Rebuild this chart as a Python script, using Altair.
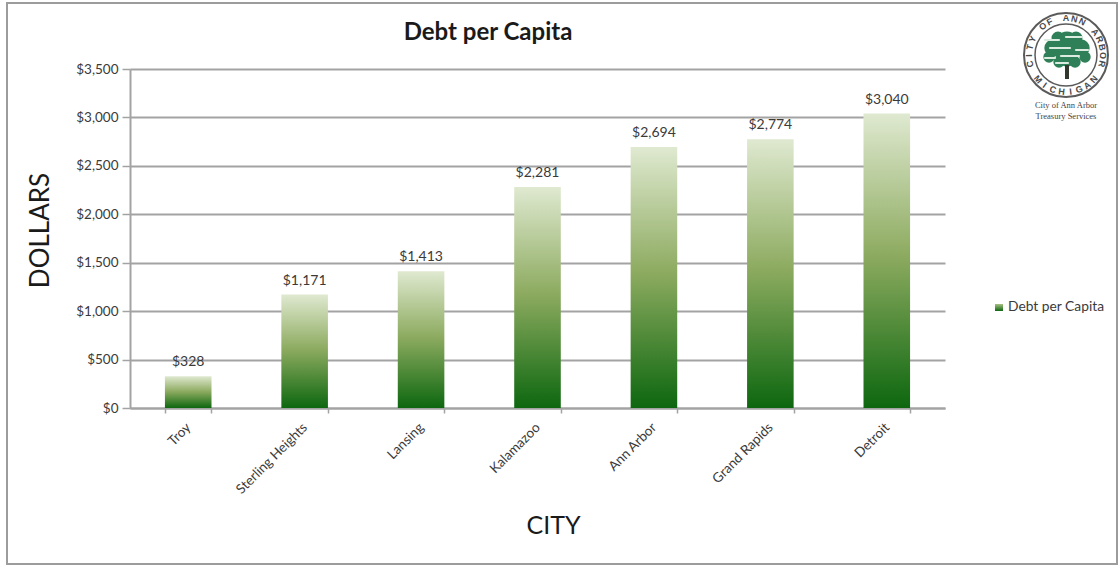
import math
import altair as alt
import pandas as pd

FONT = "Lato"
GRID = "#a3a3a3"
TEXT = "#3a3a3a"

# Chart values
cities = ["Troy", "Sterling Heights", "Lansing", "Kalamazoo", "Ann Arbor", "Grand Rapids", "Detroit"]
debt_per_capita = [328, 1171, 1413, 2281, 2694, 2774, 3040]
y_ticks = [0, 500, 1000, 1500, 2000, 2500, 3000, 3500]

# Plot area placement on the page
PLOT_LEFT, PLOT_TOP, PLOT_W, PLOT_H = 130, 69, 815, 339

# City seal pieces, in page pixels
seal_center = (1066, 55)
seal_top_text = "CITY OF ANN ARBOR"
seal_bottom_text = "MICHIGAN"
tree_x = [1067, 1053, 1081, 1058, 1076, 1067, 1049, 1085, 1059, 1075]
tree_y = [44, 48, 48, 38, 38, 55, 57, 57, 62, 62]
tree_size = [620, 300, 300, 170, 170, 520, 130, 130, 130, 130]
streak_x = [1052, 1074, 1060, 1082, 1050, 1070, 1062]
streak_y = [40, 37, 48, 50, 58, 56, 63]
streak_w = [7, 8, 10, 6, 5, 9, 6]
service_lines = ["City of Ann Arbor", "Treasury Services"]
service_y = [105, 116]


def px(x):
    return x - PLOT_LEFT


def py(y):
    return y - PLOT_TOP


source = pd.DataFrame({"city": cities, "debt": debt_per_capita})
source["label"] = source["debt"].map(lambda v: f"${v:,}")

x_enc = alt.X(
    "city:N",
    sort=cities,
    scale=alt.Scale(paddingInner=0.6, paddingOuter=0.3),
    axis=alt.Axis(
        title="CITY",
        titleFont=FONT,
        titleFontSize=25,
        titleFontWeight="normal",
        titleColor="#1a1a1a",
        titleX=px(553),
        titleY=525 - (PLOT_TOP + PLOT_H),
        titleBaseline="middle",
        labelAngle=-45,
        labelAlign="right",
        labelBaseline="middle",
        labelFont=FONT,
        labelFontSize=13.5,
        labelColor=TEXT,
        labelPadding=12,
        tickBand="extent",
        tickColor=GRID,
        tickSize=5,
        tickWidth=1.5,
        domainColor=GRID,
        domainWidth=2,
        grid=False,
    ),
)
y_enc = alt.Y(
    "debt:Q",
    scale=alt.Scale(domain=[0, 3500], nice=False),
    axis=alt.Axis(
        values=y_ticks,
        format="$,.0f",
        title="DOLLARS",
        titleFont=FONT,
        titleFontSize=26,
        titleFontWeight="normal",
        titleColor="#1a1a1a",
        titleX=px(40),
        titleY=py(230),
        titleBaseline="middle",
        labelFont=FONT,
        labelFontSize=13.5,
        labelColor=TEXT,
        labelPadding=4,
        tickColor=GRID,
        tickSize=8,
        tickWidth=1.5,
        domainColor=GRID,
        domainWidth=2,
        grid=True,
        gridColor=GRID,
        gridWidth=2,
    ),
)

bar_gradient = alt.Gradient(
    gradient="linear",
    x1=0,
    x2=0,
    y1=1,
    y2=0,
    stops=[
        alt.GradientStop(color="#0d670f", offset=0),
        alt.GradientStop(color="#8dab60", offset=0.52),
        alt.GradientStop(color="#dfe9d0", offset=1),
    ],
)

bars = alt.Chart(source).mark_bar(fill=bar_gradient).encode(x=x_enc, y=y_enc)
value_labels = (
    alt.Chart(source)
    .mark_text(font=FONT, fontSize=14, color=TEXT, baseline="bottom", dy=-7)
    .encode(x=alt.X("city:N", sort=cities), y=alt.Y("debt:Q"), text="label:N")
)

# Outer frame of the exhibit
frame = alt.Chart(pd.DataFrame({"k": [0]})).mark_rect(
    fill="transparent", stroke="#9c9c9c", strokeWidth=2
).encode(
    x=alt.value(px(7)), x2=alt.value(px(1117)), y=alt.value(py(3)), y2=alt.value(py(564))
)

# Chart heading
heading = alt.Chart(pd.DataFrame({"x": [px(488)], "y": [py(33)], "t": ["Debt per Capita"]})).mark_text(
    font=FONT, fontSize=24, fontWeight="bold", color="#1a1a1a", baseline="middle"
).encode(
    x=alt.X("x:Q", scale=None, axis=None),
    y=alt.Y("y:Q", scale=None, axis=None),
    text="t:N",
)

# Legend entry
legend_key = alt.Chart(pd.DataFrame({"x": [px(995)], "x2": [px(1003)], "y": [py(304)], "y2": [py(311)]})).mark_rect(
    fill=alt.Gradient(
        gradient="linear", x1=0, x2=0, y1=1, y2=0,
        stops=[alt.GradientStop(color="#0d670f", offset=0), alt.GradientStop(color="#a9c184", offset=1)],
    )
).encode(
    x=alt.X("x:Q", scale=None, axis=None),
    x2="x2:Q",
    y=alt.Y("y:Q", scale=None, axis=None),
    y2="y2:Q",
)
legend_text = alt.Chart(pd.DataFrame({"x": [px(1008)], "y": [py(307)], "t": ["Debt per Capita"]})).mark_text(
    font=FONT, fontSize=13.8, color=TEXT, align="left", baseline="middle"
).encode(
    x=alt.X("x:Q", scale=None, axis=None),
    y=alt.Y("y:Q", scale=None, axis=None),
    text="t:N",
)


# City seal: rings, tree and lettering set around the circle
def ring(radius, width, color):
    return alt.Chart(pd.DataFrame({"x": [px(seal_center[0])], "y": [py(seal_center[1])]})).mark_point(
        shape="circle", filled=False, stroke=color, strokeWidth=width, size=4 * radius * radius, opacity=1
    ).encode(
        x=alt.X("x:Q", scale=None, axis=None),
        y=alt.Y("y:Q", scale=None, axis=None),
    )


def curved(text, radius, start, step, flip):
    rows = []
    for i, ch in enumerate(text):
        if ch == " ":
            continue
        deg = start + i * step
        rad = math.radians(deg)
        rows.append(
            {
                "x": px(seal_center[0]) + radius * math.sin(rad),
                "y": py(seal_center[1]) - radius * math.cos(rad),
                "a": (deg + 180 if flip else deg) % 360,
                "ch": ch,
            }
        )
    return pd.DataFrame(rows)


letters = pd.concat(
    [
        curved(seal_top_text, 37, -104, 13, False),
        curved(seal_bottom_text, 37, 180 + 3.5 * 14, -14, True),
    ]
)
seal_letters = alt.Chart(letters).mark_text(
    font="Liberation Sans", fontSize=9, fontWeight="bold", color="#4a4a4a", align="center", baseline="middle"
).encode(
    x=alt.X("x:Q", scale=None, axis=None),
    y=alt.Y("y:Q", scale=None, axis=None),
    angle=alt.Angle("a:Q", scale=None),
    text="ch:N",
)
canopy = alt.Chart(
    pd.DataFrame({"x": [px(v) for v in tree_x], "y": [py(v) for v in tree_y], "s": tree_size})
).mark_point(shape="circle", filled=True, opacity=1, color="#2f8058").encode(
    x=alt.X("x:Q", scale=None, axis=None),
    y=alt.Y("y:Q", scale=None, axis=None),
    size=alt.Size("s:Q", scale=None, legend=None),
)
streaks = alt.Chart(
    pd.DataFrame(
        {
            "x": [px(a - w) for a, w in zip(streak_x, streak_w)],
            "x2": [px(a + w) for a, w in zip(streak_x, streak_w)],
            "y": [py(v) for v in streak_y],
        }
    )
).mark_rule(color="#dcebe0", strokeWidth=2.2, strokeCap="round").encode(
    x=alt.X("x:Q", scale=None, axis=None),
    x2="x2:Q",
    y=alt.Y("y:Q", scale=None, axis=None),
)
trunk = alt.Chart(
    pd.DataFrame({"x": [px(1067)], "y": [py(65)], "y2": [py(79)]})
).mark_rule(color="#33382f", strokeWidth=4).encode(
    x=alt.X("x:Q", scale=None, axis=None),
    y=alt.Y("y:Q", scale=None, axis=None),
    y2="y2:Q",
)
service_text = alt.Chart(
    pd.DataFrame({"x": [px(1066)] * 2, "y": [py(v) for v in service_y], "t": service_lines})
).mark_text(font="Liberation Serif", fontSize=8.5, color="#444444", baseline="middle").encode(
    x=alt.X("x:Q", scale=None, axis=None),
    y=alt.Y("y:Q", scale=None, axis=None),
    text="t:N",
)

chart = (
    alt.layer(
        frame,
        bars,
        value_labels,
        heading,
        legend_key,
        legend_text,
        ring(42, 2, "#5a5a5a"),
        ring(31, 1.5, "#5a5a5a"),
        canopy,
        streaks,
        trunk,
        seal_letters,
        service_text,
    )
    .properties(
        width=PLOT_W,
        height=PLOT_H,
        background="white",
        padding={"left": PLOT_LEFT, "top": PLOT_TOP, "right": 1120 - PLOT_LEFT - PLOT_W, "bottom": 566 - PLOT_TOP - PLOT_H},
        autosize=alt.AutoSizeParams(type="none"),
    )
    .configure_view(stroke=None)
)

chart.save("out.html", embed_options={"renderer": "svg", "actions": False})
